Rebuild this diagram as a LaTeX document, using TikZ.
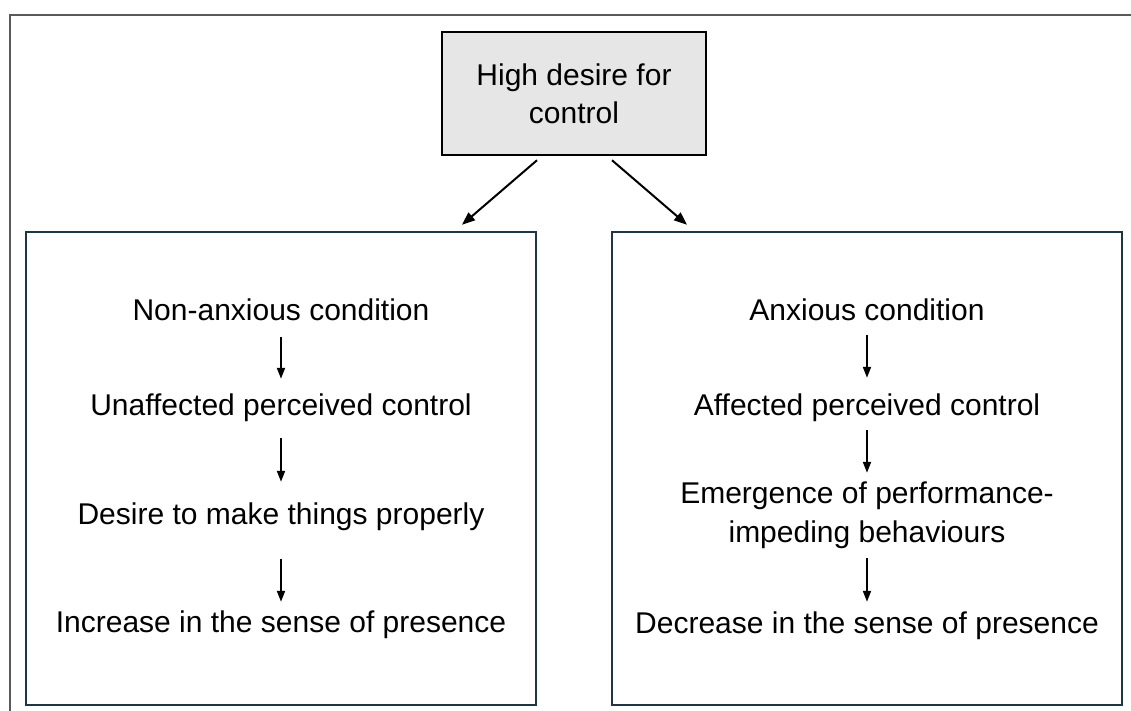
\documentclass[tikz,border=0pt]{standalone}
\usepackage{fontspec}
\setmainfont{Liberation Sans}
\usetikzlibrary{arrows.meta}
\definecolor{framegrey}{HTML}{5A5A5A}
\definecolor{boxline}{HTML}{1E3646}
\definecolor{topfill}{HTML}{E6E6E6}
\tikzset{
  panel/.style={draw=boxline, line width=2.5pt, minimum width=510pt, minimum height=473pt, inner sep=0pt},
  topbox/.style={draw=black, fill=topfill, line width=2.5pt, minimum width=264pt, minimum height=123pt, inner sep=0pt, align=center, font=\fontsize{30}{38}\selectfont},
  txt/.style={font=\fontsize{30}{36}\selectfont, inner sep=0pt, anchor=base, text height=21pt},
  arr/.style={-{Triangle[length=11pt,width=8pt]}, line width=2pt},
  diag/.style={-{Triangle[length=13pt,width=10pt]}, line width=2pt},
  outerline/.style={draw=framegrey, line width=1.5pt},
}
\begin{document}
\begin{tikzpicture}[x=1pt,y=-1pt]
\useasboundingbox (0,0) rectangle (1131,711);
\draw[outerline] (10,711) -- (10,15) -- (1131,15);

\node[topbox] (top) at (574,93.5) {High desire for\\control};
\node[panel] (L) at (281,468.5) {};
\node[panel] (R) at (867,468.5) {};

% left column
\node[txt] (L1) at (281,320) {Non-anxious condition};
\node[txt] (L2) at (281,415) {Unaffected perceived control};
\node[txt] (L3) at (281,524) {Desire to make things properly};
\node[txt] (L4) at (281,632) {Increase in the sense of presence};

% right column
\node[txt] (R1) at (867,320) {Anxious condition};
\node[txt] (R2) at (867,415) {Affected perceived control};
\node[txt] (R3a) at (867,503) {Emergence of performance-};
\node[txt] (R3b) at (867,542) {impeding behaviours};
\node[txt] (R4) at (867,633) {Decrease in the sense of presence};

% diagonal connectors
\draw[diag] ([xshift=-37pt,yshift=-4pt]top.south) -- ([xshift=181pt,yshift=6pt]L.north);
\draw[diag] ([xshift=38pt,yshift=-4pt]top.south) -- ([xshift=-180pt,yshift=6pt]R.north);

% left arrows
\draw[arr] ([yshift=-17pt]L1.base) -- ([yshift=15pt]L2.north);
\draw[arr] ([yshift=-23pt]L2.base) -- ([yshift=21pt]L3.north);
\draw[arr] ([yshift=-35pt]L3.base) -- ([yshift=9pt]L4.north);

% right arrows
\draw[arr] ([yshift=-15pt]R1.base) -- ([yshift=16pt]R2.north);
\draw[arr] ([yshift=-15pt]R2.base) -- ([yshift=9pt]R3a.north);
\draw[arr] ([yshift=-16pt]R3b.base) -- ([yshift=10pt]R4.north);
\end{tikzpicture}
\end{document}
